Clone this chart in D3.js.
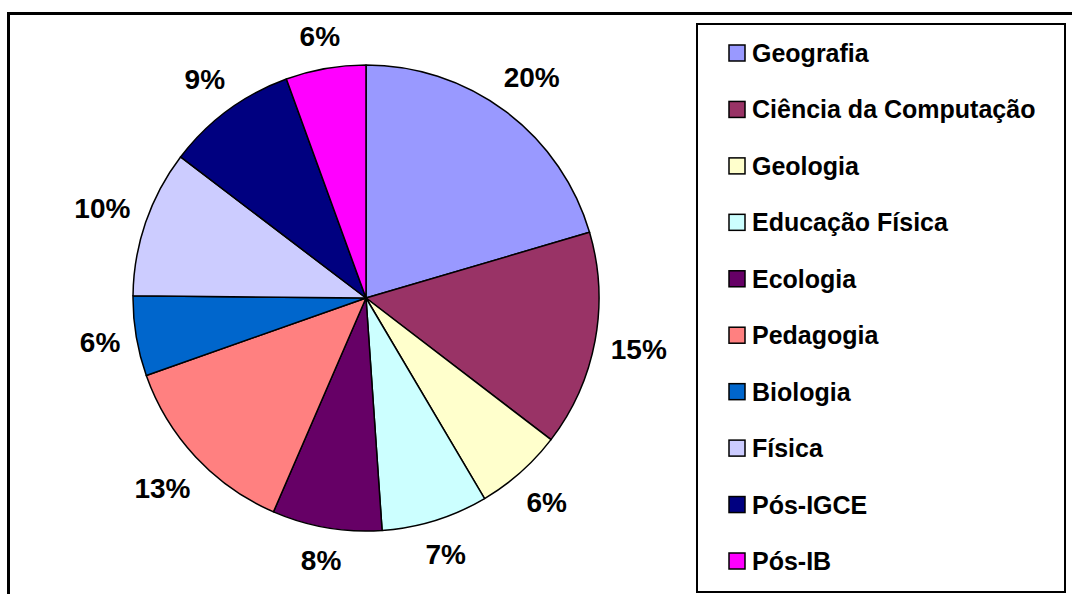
<!DOCTYPE html>
<html lang="pt">
<head>
  <meta charset="UTF-8">
  <title>Pie chart</title>
  <style>
    * { margin: 0; box-sizing: border-box; }
    body { background: #fff; width: 1072px; height: 594px; overflow: hidden; }
    text { font-family: "Liberation Sans", Arial, sans-serif; font-weight: bold; fill: #000; }
    .pct { font-size: 28px; }
    .legend-label { font-size: 25px; }
  </style>
</head>
<body>
  <svg></svg>
  <script src="https://d3js.org/d3.v7.min.js"></script>
  <script>
    const categories = ['Geografia', 'Ciência da Computação', 'Geologia', 'Educação Física',
      'Ecologia', 'Pedagogia', 'Biologia', 'Física', 'Pós-IGCE', 'Pós-IB'];
    const shares = [20.45, 14.95, 6.1, 7.4, 7.6, 13.1, 5.55, 10.2, 9.1, 5.55];
    const colors = ['#9999FF', '#993366', '#FFFFCC', '#CCFFFF', '#660066',
      '#FF8080', '#0066CC', '#CCCCFF', '#000080', '#FF00FF'];

    const width = 1072;
    const height = 594;
    const svg = d3.select('svg')
      .attr('width', width)
      .attr('height', height);

    // outer chart frame (runs off the right and bottom edge)
    svg.append('rect')
      .attr('x', 8.5).attr('y', 13.5)
      .attr('width', 1200).attr('height', 800)
      .attr('fill', 'none')
      .attr('stroke', '#000')
      .attr('stroke-width', 3);

    const cx = 366, cy = 298, radius = 233;
    const total = d3.sum(shares);

    const pie = d3.pie().sort(null).value(d => d);
    const arc = d3.arc().innerRadius(0).outerRadius(radius);
    const color = d3.scaleOrdinal().domain(d3.range(categories.length)).range(colors);

    const g = svg.append('g').attr('transform', `translate(${cx},${cy})`);
    const arcs = pie(shares);

    g.selectAll('path')
      .data(arcs)
      .enter().append('path')
      .attr('d', arc)
      .attr('fill', (d, i) => color(i))
      .attr('stroke', '#000')
      .attr('stroke-width', 1.5)
      .attr('stroke-linejoin', 'round');

    // percentage labels placed just outside the rim
    const labels = g.selectAll('text.pct')
      .data(arcs)
      .enter().append('text')
      .attr('class', 'pct')
      .attr('text-anchor', 'middle')
      .attr('dy', '0.36em')
      .text(d => Math.round(d.value / total * 100) + '%');

    labels.each(function(d) {
      const a = (d.startAngle + d.endAngle) / 2;
      const s = Math.sin(a), c = Math.cos(a);
      const w = this.getComputedTextLength();
      const h = 32;
      const r = radius + 14 + 0.5 * (Math.abs(s) * w + Math.abs(c) * h);
      d3.select(this).attr('x', s * r).attr('y', -c * r);
    });

    // legend
    const lx = 697, ly = 24, lw = 368, lh = 568;
    svg.append('rect')
      .attr('x', lx).attr('y', ly)
      .attr('width', lw).attr('height', lh)
      .attr('fill', '#fff')
      .attr('stroke', '#000')
      .attr('stroke-width', 2);

    const rowY = d3.scalePoint().domain(categories).range([53, 561]);

    const item = svg.append('g').selectAll('g')
      .data(categories)
      .enter().append('g')
      .attr('transform', d => `translate(0,${rowY(d)})`);

    item.append('rect')
      .attr('x', 729).attr('y', -8)
      .attr('width', 16).attr('height', 16)
      .attr('fill', (d, i) => color(i))
      .attr('stroke', '#000')
      .attr('stroke-width', 1.5);

    item.append('text')
      .attr('class', 'legend-label')
      .attr('x', 752)
      .attr('dy', '0.36em')
      .text(d => d);
  </script>
</body>
</html>
